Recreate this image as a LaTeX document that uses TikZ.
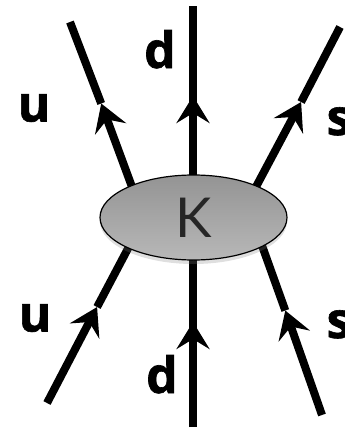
\documentclass[tikz,border=0pt]{standalone}
\usepackage{fontspec}
\usetikzlibrary{arrows.meta,shapes.geometric,shadows}
\newfontfamily\labfont{Open Sans}[BoldFeatures={FakeBold=1.2}]
\newfontfamily\kfont{Lato}
\begin{document}
\begin{tikzpicture}[x=1pt,y=-1pt,
  quark/.style={line width=8pt},
  qarrow/.style={line width=8pt,-{Stealth[length=27pt,width=33pt,inset=10pt]}},
  lab/.style={font=\labfont\bfseries\fontsize{50}{50}\selectfont,inner sep=0pt,anchor=base},
  blob/.style={ellipse,draw,line width=1.2pt,minimum width=187pt,minimum height=85pt,
    inner sep=0pt,top color=black!42,bottom color=black!28,
    drop shadow={opacity=0.25,shadow xshift=0pt,shadow yshift=-4pt},
    font=\kfont\fontsize{55}{55}\selectfont,text=black!85}]
\useasboundingbox (0,0) rectangle (345,431);
% upper left
\coordinate (ulo) at (70,22);
\coordinate (uli) at (135,195);
\coordinate (ult) at (101.2,103.5);
% upper right
\coordinate (uro) at (340,27);
\coordinate (uri) at (249,200);
\coordinate (urt) at (301.1,102);
% lower left
\coordinate (llo) at (47,403);
\coordinate (lli) at (132.5,240);
\coordinate (llt) at (97.1,307);
% lower right
\coordinate (lro) at (322,415);
\coordinate (lri) at (260,240);
\coordinate (lrt) at (285.3,310.5);
% middle
\coordinate (mt) at (193,6);
\coordinate (mb) at (193,427);
\coordinate (mi) at (193,200);
\coordinate (mti) at (193,96);
\coordinate (mj) at (193,240);
\coordinate (mbi) at (193,322);
% lines
\draw[qarrow] (uli) -- (ult);
\draw[quark] (ult) -- (ulo);
\draw[qarrow] (uri) -- (urt);
\draw[quark] (urt) -- (uro);
\draw[qarrow] (llo) -- (llt);
\draw[quark] (llt) -- (lli);
\draw[qarrow] (lro) -- (lrt);
\draw[quark] (lrt) -- (lri);
\draw[quark] (mt) -- (mb);
\draw[qarrow] (mi) -- (mti);
\draw[qarrow] (mb) -- (mbi);
% blob
\node[blob] (K) at (193.5,217.5) {K};
% labels
\node[lab] (u1) at (34,121.5) {u};
\node[lab] (u2) at (35,331.5) {u};
\node[lab] (d1) at (160,68) {d};
\node[lab] (d2) at (162,393) {d};
\node[lab] (s1) at (339,135) {s};
\node[lab] (s2) at (339,338) {s};
\end{tikzpicture}
\end{document}
